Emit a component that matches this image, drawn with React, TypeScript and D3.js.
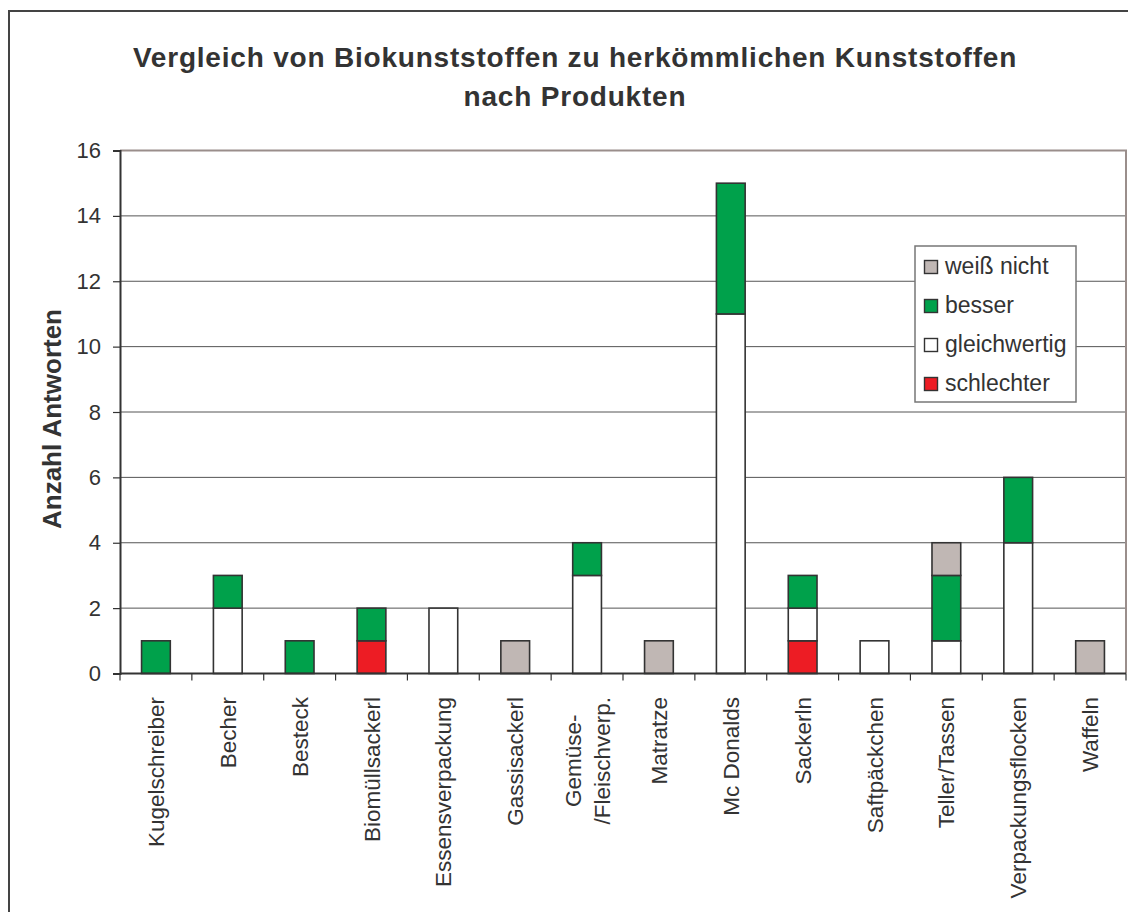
import React, { useEffect, useRef } from "react";
import * as d3 from "d3";

const categories = [
  "Kugelschreiber",
  "Becher",
  "Besteck",
  "Biomüllsackerl",
  "Essensverpackung",
  "Gassisackerl",
  "Gemüse-\n/Fleischverp.",
  "Matratze",
  "Mc Donalds",
  "Sackerln",
  "Saftpäckchen",
  "Teller/Tassen",
  "Verpackungsflocken",
  "Waffeln",
];

// stacked bottom to top
const schlechter = [0, 0, 0, 1, 0, 0, 0, 0, 0, 1, 0, 0, 0, 0];
const gleichwertig = [0, 2, 0, 0, 2, 0, 3, 0, 11, 1, 1, 1, 4, 0];
const besser = [1, 1, 1, 1, 0, 0, 1, 0, 4, 1, 0, 2, 2, 0];
const weissNicht = [0, 0, 0, 0, 0, 1, 0, 1, 0, 0, 0, 1, 0, 1];

const seriesKeys = ["schlechter", "gleichwertig", "besser", "weissNicht"];
const seriesNames = ["schlechter", "gleichwertig", "besser", "weiß nicht"];
const seriesColors = ["#ed1c24", "#ffffff", "#00a14b", "#c0b7b4"];

const yTicks = [0, 2, 4, 6, 8, 10, 12, 14, 16];

const FONT = "'Liberation Sans', Arial, sans-serif";
const TEXT = "#333333";

export default function App() {
  const ref = useRef<SVGSVGElement>(null);

  useEffect(() => {
    const width = 1128;
    const height = 912;
    const plot = { left: 120, right: 1126, top: 150.5, bottom: 673.5 };

    const svg = d3.select(ref.current).attr("width", width).attr("height", height);
    svg.selectAll("*").remove();

    const rows = categories.map((c, i) => ({
      cat: c,
      schlechter: schlechter[i],
      gleichwertig: gleichwertig[i],
      besser: besser[i],
      weissNicht: weissNicht[i],
    }));

    const x = d3
      .scaleBand()
      .domain(categories)
      .range([plot.left, plot.right])
      .paddingInner(0.6)
      .paddingOuter(0.3);
    const step = x.step();
    const y = d3.scaleLinear().domain([0, 16]).range([plot.bottom, plot.top]);

    // background + outer frame
    svg.append("rect").attr("width", width).attr("height", height).attr("fill", "#fff");
    svg
      .append("rect")
      .attr("x", 9)
      .attr("y", 11)
      .attr("width", 1140)
      .attr("height", 940)
      .attr("fill", "none")
      .attr("stroke", "#444")
      .attr("stroke-width", 2);

    // title
    const title = svg
      .append("text")
      .attr("x", 575)
      .attr("text-anchor", "middle")
      .attr("font-family", FONT)
      .attr("font-weight", "bold")
      .attr("font-size", 28)
      .attr("letter-spacing", 0.8)
      .attr("fill", TEXT);
    title.append("tspan").attr("x", 575).attr("y", 67).text("Vergleich von Biokunststoffen zu herkömmlichen Kunststoffen");
    title.append("tspan").attr("x", 575).attr("y", 106).text("nach Produkten");

    // gridlines
    svg
      .append("g")
      .selectAll("line")
      .data(yTicks.filter((t) => t > 0 && t < 16))
      .enter()
      .append("line")
      .attr("x1", plot.left)
      .attr("x2", plot.right)
      .attr("y1", (d) => y(d))
      .attr("y2", (d) => y(d))
      .attr("stroke", "#555")
      .attr("stroke-width", 1);

    // plot border (top / right)
    svg
      .append("path")
      .attr("d", `M${plot.left},${y(16)}H${plot.right}V${plot.bottom}`)
      .attr("fill", "none")
      .attr("stroke", "#9a8e8b")
      .attr("stroke-width", 2);

    // bars
    const stacked = d3.stack<any>().keys(seriesKeys)(rows);
    svg
      .append("g")
      .selectAll("g")
      .data(stacked)
      .enter()
      .append("g")
      .attr("fill", (_, i) => seriesColors[i])
      .selectAll("rect")
      .data((d) => d.filter((s) => s[1] - s[0] > 0))
      .enter()
      .append("rect")
      .attr("x", (d) => x(d.data.cat) as number)
      .attr("width", x.bandwidth())
      .attr("y", (d) => y(d[1]))
      .attr("height", (d) => y(d[0]) - y(d[1]))
      .attr("stroke", "#333")
      .attr("stroke-width", 1.6);

    // y axis
    const yAxis = svg
      .append("g")
      .attr("transform", `translate(${plot.left},0)`)
      .call(d3.axisLeft(y).tickValues(yTicks).tickSize(7).tickPadding(12));
    yAxis.select(".domain").attr("stroke", "#333").attr("stroke-width", 2);
    yAxis.selectAll(".tick line").attr("stroke", "#333").attr("stroke-width", 1.2);
    yAxis
      .selectAll(".tick text")
      .attr("font-family", FONT)
      .attr("font-size", 22)
      .attr("fill", TEXT);

    // x axis line + boundary ticks
    const xg = svg.append("g");
    xg.append("line")
      .attr("x1", plot.left)
      .attr("x2", plot.right)
      .attr("y1", plot.bottom)
      .attr("y2", plot.bottom)
      .attr("stroke", "#333")
      .attr("stroke-width", 2);
    xg.selectAll("line.tk")
      .data(d3.range(categories.length + 1))
      .enter()
      .append("line")
      .attr("class", "tk")
      .attr("x1", (i) => plot.left + i * step)
      .attr("x2", (i) => plot.left + i * step)
      .attr("y1", plot.bottom)
      .attr("y2", plot.bottom + 7)
      .attr("stroke", "#333")
      .attr("stroke-width", 1.2);

    // x labels, rotated, top end at y=697
    const labelTop = 697;
    const lineH = 29;
    categories.forEach((c) => {
      const lines = c.split("\n");
      const cx = (x(c) as number) + x.bandwidth() / 2;
      const texts = lines.map((ln, j) => {
        const lx = cx + (j - (lines.length - 1) / 2) * lineH;
        return xg
          .append("text")
          .attr("transform", `translate(${lx},${labelTop}) rotate(-90)`)
          .attr("text-anchor", "middle")
          .attr("dy", "0.36em")
          .attr("font-family", FONT)
          .attr("font-size", 22.5)
          .attr("fill", TEXT)
          .text(ln);
      });
      const lens = texts.map((t) => (t.node() as SVGTextElement).getComputedTextLength());
      const maxLen = d3.max(lens) || 0;
      texts.forEach((t, j) => {
        const lx = cx + (j - (lines.length - 1) / 2) * lineH;
        t.attr("transform", `translate(${lx},${labelTop + maxLen / 2}) rotate(-90)`);
      });
    });

    // y label
    svg
      .append("text")
      .attr("transform", "translate(52,419) rotate(-90)")
      .attr("text-anchor", "middle")
      .attr("dy", "0.36em")
      .attr("font-family", FONT)
      .attr("font-weight", "bold")
      .attr("font-size", 26)
      .attr("fill", TEXT)
      .text("Anzahl Antworten");

    // legend (top entry = last series)
    const lg = svg.append("g");
    lg.append("rect")
      .attr("x", 915)
      .attr("y", 246)
      .attr("width", 161)
      .attr("height", 156)
      .attr("fill", "#fff")
      .attr("stroke", "#777")
      .attr("stroke-width", 1.5);
    const order = [3, 2, 1, 0];
    order.forEach((si, r) => {
      const cy = 267 + r * 39;
      lg.append("rect")
        .attr("x", 924.5)
        .attr("y", cy - 6.5)
        .attr("width", 13)
        .attr("height", 13)
        .attr("fill", seriesColors[si])
        .attr("stroke", "#333")
        .attr("stroke-width", 1.4);
      lg.append("text")
        .attr("x", 945)
        .attr("y", cy)
        .attr("dy", "0.32em")
        .attr("font-family", FONT)
        .attr("font-size", 23)
        .attr("fill", TEXT)
        .text(seriesNames[si]);
    });
  }, []);

  return (
    <svg
      ref={ref}
      style={{ position: "absolute", left: 0, top: 0, display: "block" }}
    ></svg>
  );
}
